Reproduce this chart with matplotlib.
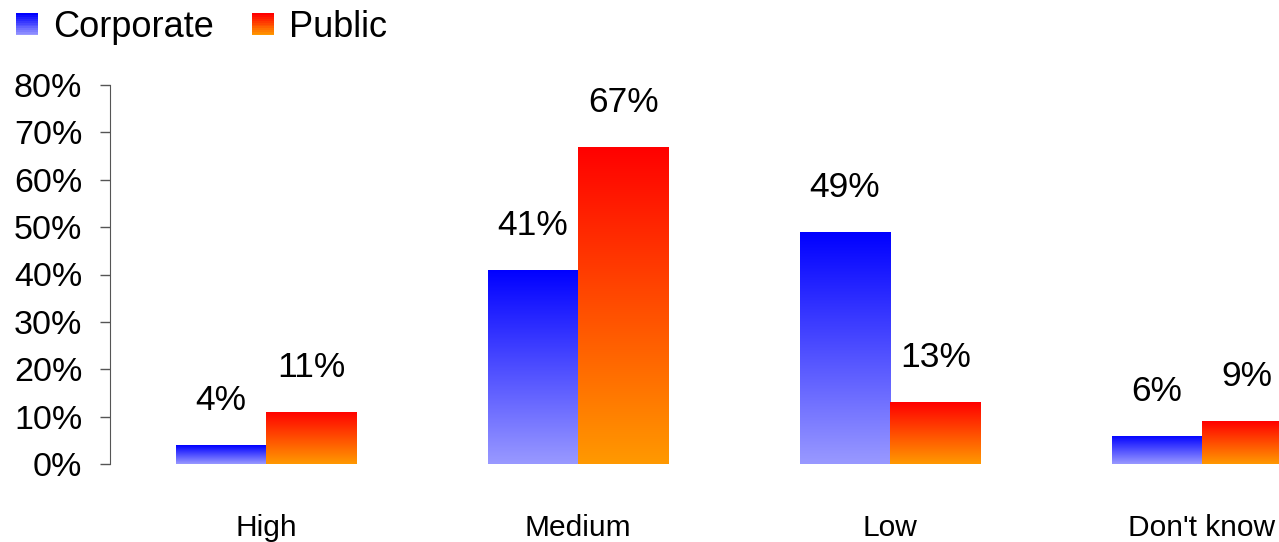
import matplotlib.pyplot as plt
import numpy as np
from matplotlib.colors import LinearSegmentedColormap
from matplotlib.legend_handler import HandlerBase
from matplotlib.patches import Rectangle

plt.rcParams['font.family'] = ['Liberation Sans', 'DejaVu Sans']

# data
categories = ['High', 'Medium', 'Low', "Don't know"]
corporate = [4, 41, 49, 6]
public = [11, 67, 13, 9]
series_names = ['Corporate', 'Public']

# gradient colormaps (bottom -> top)
blue_cm = LinearSegmentedColormap.from_list('blue', ['#9999ff', '#0000ff'])
red_cm = LinearSegmentedColormap.from_list('red', ['#ff9900', '#ff0000'])

fig = plt.figure(figsize=(12.79, 5.42), dpi=100)
ax = fig.add_axes([110 / 1279, 78 / 542, 1248 / 1279, 379 / 542])

x = np.arange(len(categories))
w = 0.29
grad = np.linspace(0, 1, 256).reshape(-1, 1)


def gradient_bars(bars, cmap):
    for b in bars:
        b.set_facecolor('none')
        b.set_edgecolor('none')
        x0, y0 = b.get_x(), b.get_y()
        im = ax.imshow(grad, cmap=cmap, origin='lower', aspect='auto',
                       extent=(x0, x0 + b.get_width(), y0, y0 + b.get_height()),
                       zorder=2)
        im.set_clip_path(b)


b1 = ax.bar(x - w / 2, corporate, w)
b2 = ax.bar(x + w / 2, public, w)
gradient_bars(b1, blue_cm)
gradient_bars(b2, red_cm)

# value labels
for bars, vals in [(b1, corporate), (b2, public)]:
    for b, v in zip(bars, vals):
        ax.annotate('%d%%' % v, (b.get_x() + b.get_width() / 2, v),
                    xytext=(0, 32), textcoords='offset points',
                    ha='center', va='center', fontsize=25.5)

ax.set_xlim(-0.5, 3.5)
ax.set_ylim(0, 80)
ax.set_yticks(range(0, 81, 10))
ax.set_yticklabels(['%d%%' % t for t in range(0, 81, 10)], fontsize=24.5)
ax.set_xticks(x)
ax.set_xticklabels(categories, fontsize=21.5)
ax.tick_params(axis='x', length=0, pad=36)
ax.tick_params(axis='y', length=7, width=1, color='#555555', pad=13, direction='out')
for s in ['top', 'right', 'bottom']:
    ax.spines[s].set_visible(False)
ax.spines['left'].set_color('#555555')


# legend with gradient squares
class GradHandler(HandlerBase):
    def __init__(self, cmap):
        super().__init__()
        self.cmap = cmap

    def create_artists(self, legend, orig_handle, xdescent, ydescent,
                       width, height, fontsize, trans):
        n = 12
        side = height
        x0 = xdescent + (width - side) / 2
        arts = []
        for i in range(n):
            r = Rectangle((x0, -ydescent + side * i / n), side, side / n + 0.3,
                          facecolor=self.cmap(i / (n - 1)), edgecolor='none',
                          transform=trans)
            arts.append(r)
        return arts


h1 = Rectangle((0, 0), 1, 1)
h2 = Rectangle((0, 0), 1, 1)
fig.legend([h1, h2], series_names, loc='upper left', bbox_to_anchor=(17 / 1279, 0.981),
           ncol=2, frameon=False, fontsize=26, handlelength=0.55, handleheight=0.55,
           handletextpad=0.45, columnspacing=1.08, borderpad=0, borderaxespad=0,
           handler_map={h1: GradHandler(blue_cm), h2: GradHandler(red_cm)})

fig.savefig('out.png', dpi=100)
